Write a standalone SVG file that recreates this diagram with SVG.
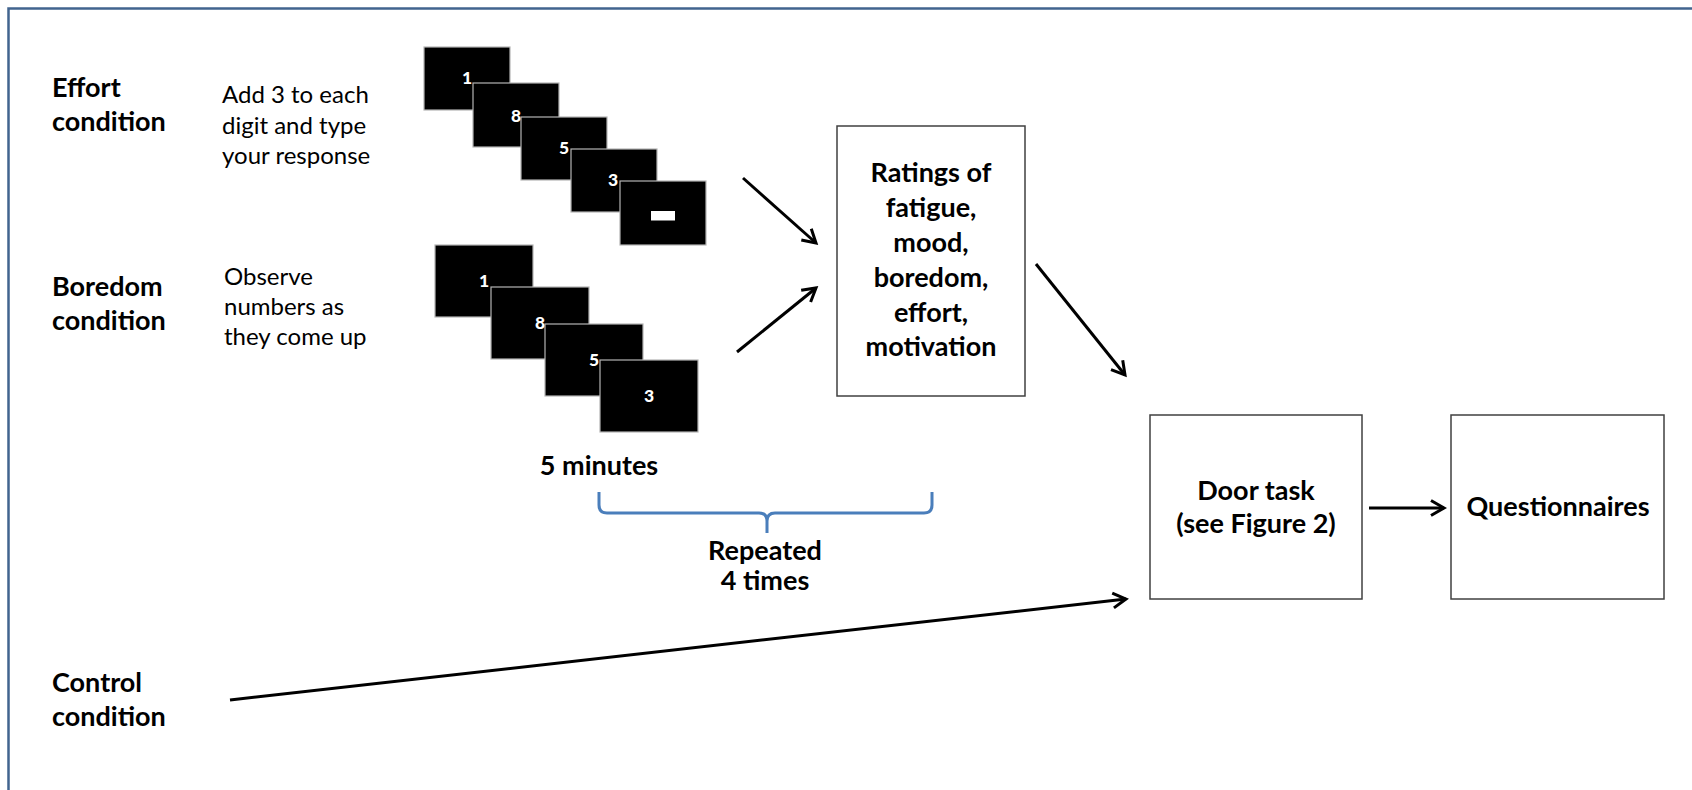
<svg xmlns="http://www.w3.org/2000/svg" width="1692" height="790" viewBox="0 0 1692 790">
<defs>
<style>
.lbl{font-family:Lato,"Open Sans",sans-serif;font-weight:700;font-size:27px;fill:#000}
.ins{font-family:Lato,"Open Sans",sans-serif;font-weight:400;font-size:24px;fill:#000}
.box{fill:#fff;stroke:#404040;stroke-width:1.5}
.scr{fill:#000;stroke:#b4b4b4;stroke-width:1.2}
.dig{font-family:Lato,"Open Sans",sans-serif;font-weight:900;font-size:17.5px;fill:#fff;text-anchor:middle}
.mid{text-anchor:middle}
.con{stroke:#000;stroke-width:3;fill:none;marker-end:url(#arr)}
</style>
<marker id="arr" viewBox="0 0 20 20" refX="17" refY="10" markerWidth="20" markerHeight="20" markerUnits="userSpaceOnUse" orient="auto">
<path d="M4,2.5 L17,10 L4,17.5" fill="none" stroke="#000" stroke-width="3"/>
</marker>
</defs>
<rect width="1692" height="790" fill="#fff"/>
<path d="M8.5,790 V8.5 H1692" fill="none" stroke="#41648f" stroke-width="2.5"/>

<g id="effort-label">
<text class="lbl" x="52" y="97">Effort</text>
<text class="lbl" x="52" y="131">condition</text>
</g>
<g id="effort-instruction">
<text class="ins" x="222" y="103">Add 3 to each</text>
<text class="ins" x="222" y="134">digit and type</text>
<text class="ins" x="222" y="164">your response</text>
</g>
<g id="effort-screens">
<rect class="scr" x="424" y="47" width="86" height="63"/>
<text class="dig" x="467" y="83.5">1</text>
<rect class="scr" x="473" y="83" width="86" height="64"/>
<text class="dig" x="516" y="122">8</text>
<rect class="scr" x="521" y="117" width="86" height="63"/>
<text class="dig" x="564" y="153.5">5</text>
<rect class="scr" x="571" y="149" width="86" height="63"/>
<text class="dig" x="613" y="186">3</text>
<rect class="scr" x="620" y="181" width="86" height="64"/>
<rect x="651" y="211" width="24" height="9.5" fill="#fff"/>
</g>

<g id="boredom-label">
<text class="lbl" x="52" y="296">Boredom</text>
<text class="lbl" x="52" y="330">condition</text>
</g>
<g id="boredom-instruction">
<text class="ins" x="224" y="285">Observe</text>
<text class="ins" x="224" y="315">numbers as</text>
<text class="ins" x="224" y="345">they come up</text>
</g>
<g id="boredom-screens">
<rect class="scr" x="435" y="245" width="98" height="72"/>
<text class="dig" x="484" y="287">1</text>
<rect class="scr" x="491" y="287" width="98" height="72"/>
<text class="dig" x="540" y="329">8</text>
<rect class="scr" x="545" y="324" width="98" height="72"/>
<text class="dig" x="594" y="366">5</text>
<rect class="scr" x="600" y="360" width="98" height="72"/>
<text class="dig" x="649" y="402">3</text>
</g>

<g id="control-label">
<text class="lbl" x="52" y="692">Control</text>
<text class="lbl" x="52" y="726">condition</text>
</g>

<g id="duration">
<text class="lbl mid" x="599" y="475">5 minutes</text>
</g>
<g id="repeat-brace">
<path d="M599,492 V505 Q599,513 607,513 H759 Q767,513 767,521 V533 M767,521 Q767,513 775,513 H924 Q932,513 932,505 V492" fill="none" stroke="#4a7ebb" stroke-width="3"/>
<text class="lbl mid" x="765" y="560">Repeated</text>
<text class="lbl mid" x="765" y="590">4 times</text>
</g>

<g id="ratings">
<rect class="box" x="837" y="126" width="188" height="270"/>
<text class="lbl mid" x="931" y="182">Ratings of</text>
<text class="lbl mid" x="931" y="217">fatigue,</text>
<text class="lbl mid" x="931" y="252">mood,</text>
<text class="lbl mid" x="931" y="287">boredom,</text>
<text class="lbl mid" x="931" y="322">effort,</text>
<text class="lbl mid" x="931" y="356">motivation</text>
</g>

<g id="door-task">
<rect class="box" x="1150" y="415" width="212" height="184"/>
<text class="lbl mid" x="1256" y="500">Door task</text>
<text class="lbl mid" x="1256" y="533">(see Figure 2)</text>
</g>

<g id="questionnaires">
<rect class="box" x="1451" y="415" width="213" height="184"/>
<text class="lbl mid" x="1558" y="516">Questionnaires</text>
</g>

<g id="connectors">
<line class="con" x1="743" y1="178" x2="816" y2="243"/>
<line class="con" x1="737" y1="352" x2="816" y2="288"/>
<line class="con" x1="1036" y1="264" x2="1125" y2="375"/>
<line class="con" x1="230" y1="700" x2="1126" y2="599"/>
<line class="con" x1="1369" y1="508" x2="1444" y2="508"/>
</g>
</svg>
